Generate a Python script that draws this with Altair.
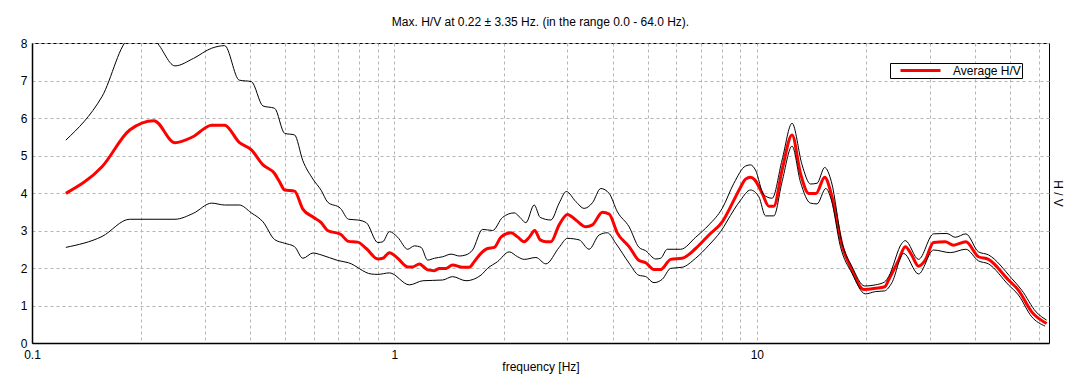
import altair as alt
import pandas as pd

title_text = "Max. H/V at 0.22 \u00b1 3.35 Hz. (in the range 0.0 - 64.0 Hz)."
x_title = "frequency [Hz]"
y_title = "H / V"
legend_name = "Average H/V"

# Average H/V curve (red)
avg_freq = [
    0.124, 0.156, 0.186, 0.217, 0.248, 0.278, 0.313, 0.340, 0.373, 0.403,
    0.434, 0.467, 0.482, 0.498, 0.530, 0.559, 0.596, 0.628, 0.654, 0.710,
    0.747, 0.792, 0.836, 0.900, 0.929, 0.969, 1.021, 1.088, 1.123, 1.172,
    1.235, 1.289, 1.330, 1.388, 1.447, 1.543, 1.609, 1.661, 1.733, 1.807,
    1.886, 1.967, 2.097, 2.187, 2.281, 2.355, 2.439, 2.525, 2.623, 2.702,
    2.848, 3.002, 3.167, 3.375, 3.519, 3.749, 3.912, 4.123, 4.441, 4.731,
    4.937, 5.204, 5.429, 5.785, 6.226, 6.779, 7.376, 8.027, 8.644, 8.980,
    9.309, 9.607, 9.870, 10.34, 10.79, 11.14, 11.74, 12.51, 13.19, 13.91,
    14.57, 15.39, 16.12, 17.18, 18.30, 19.72, 21.23, 22.53, 23.10, 24.61,
    25.68, 26.73, 27.94, 29.15, 30.73, 33.11, 34.90, 37.73, 40.89, 43.56,
    49.46, 52.70, 57.34, 63.05,
]
avg_hv = [
    3.99, 4.70, 5.68, 5.93, 5.34, 5.50, 5.81, 5.81, 5.35, 5.15,
    4.75, 4.52, 4.30, 4.08, 4.05, 3.57, 3.36, 3.21, 3.00, 2.90,
    2.71, 2.69, 2.52, 2.24, 2.26, 2.41, 2.26, 2.03, 2.03, 2.11,
    1.95, 1.93, 1.99, 1.99, 2.08, 2.02, 2.02, 2.17, 2.39, 2.52,
    2.55, 2.82, 2.94, 2.83, 2.70, 2.82, 3.00, 2.75, 2.70, 2.70,
    3.15, 3.43, 3.28, 3.10, 3.15, 3.49, 3.44, 2.93, 2.57, 2.20,
    2.14, 1.96, 1.96, 2.23, 2.26, 2.52, 2.88, 3.23, 3.81, 4.12,
    4.37, 4.42, 4.35, 4.00, 3.65, 3.65, 4.61, 5.55, 4.53, 3.99,
    3.99, 4.42, 3.90, 2.61, 1.95, 1.43, 1.46, 1.50, 1.68, 2.21,
    2.57, 2.35, 2.05, 2.21, 2.68, 2.70, 2.61, 2.70, 2.30, 2.23,
    1.68, 1.41, 0.83, 0.52,
]

# Upper curve (black)
hi_freq = [
    0.124, 0.156, 0.186, 0.217, 0.248, 0.279, 0.313, 0.340, 0.373, 0.403,
    0.434, 0.467, 0.498, 0.530, 0.559, 0.596, 0.628, 0.654, 0.710, 0.747,
    0.792, 0.836, 0.900, 0.929, 0.969, 1.021, 1.088, 1.135, 1.185, 1.235,
    1.289, 1.359, 1.433, 1.511, 1.576, 1.643, 1.751, 1.866, 1.988, 2.141,
    2.210, 2.306, 2.430, 2.525, 2.702, 2.848, 2.980, 3.167, 3.338, 3.519,
    3.711, 3.912, 4.123, 4.441, 4.731, 4.937, 5.260, 5.429, 5.661, 6.163,
    6.779, 7.376, 8.027, 8.644, 9.309, 9.607, 9.917, 10.45, 11.02, 11.74,
    12.51, 13.33, 14.06, 14.66, 15.39, 16.06, 17.18, 18.30, 19.84, 21.23,
    22.53, 23.10, 25.14, 25.68, 27.94, 30.73, 33.45, 35.28, 37.73, 40.89,
    43.56, 50.51, 53.82, 58.96, 63.05,
]
hi_hv = [
    5.41, 6.57, 8.10, 8.05, 7.39, 7.59, 7.86, 7.93, 7.01, 6.97,
    6.32, 6.26, 5.59, 5.55, 4.86, 4.37, 4.07, 3.76, 3.59, 3.30,
    3.28, 3.21, 2.68, 2.70, 2.97, 2.82, 2.50, 2.59, 2.55, 2.21,
    2.26, 2.30, 2.37, 2.32, 2.35, 2.48, 3.03, 3.00, 3.35, 3.47,
    3.37, 3.21, 3.68, 3.35, 3.28, 3.73, 4.04, 3.77, 3.59, 3.74,
    4.12, 3.99, 3.50, 3.10, 2.55, 2.46, 2.24, 2.26, 2.50, 2.50,
    2.82, 3.15, 3.59, 4.26, 4.72, 4.75, 4.61, 3.95, 3.86, 4.88,
    5.86, 4.75, 4.24, 4.26, 4.68, 4.30, 2.68, 2.04, 1.52, 1.55,
    1.63, 1.77, 2.66, 2.73, 2.23, 2.91, 2.92, 2.82, 2.91, 2.43,
    2.35, 1.72, 1.41, 0.83, 0.61,
]

# Lower curve (black)
lo_freq = [
    0.124, 0.156, 0.186, 0.217, 0.248, 0.279, 0.313, 0.340, 0.373, 0.403,
    0.434, 0.467, 0.498, 0.530, 0.559, 0.596, 0.628, 0.698, 0.747, 0.863,
    0.900, 0.969, 1.100, 1.197, 1.359, 1.447, 1.576, 1.733, 1.807, 1.926,
    2.074, 2.187, 2.281, 2.457, 2.618, 2.848, 3.002, 3.233, 3.445, 3.671,
    3.869, 4.080, 4.441, 4.717, 4.937, 5.204, 5.484, 5.785, 6.226, 6.779,
    7.376, 7.943, 8.644, 9.018, 9.607, 10.13, 10.57, 11.14, 11.74, 12.51,
    13.19, 14.06, 14.66, 15.50, 16.06, 17.01, 18.30, 19.93, 21.23, 22.53,
    23.59, 25.41, 27.94, 30.73, 34.18, 37.73, 40.89, 43.56, 49.46, 52.70,
    57.34, 62.42,
]
lo_hv = [
    2.55, 2.84, 3.30, 3.30, 3.30, 3.46, 3.73, 3.68, 3.68, 3.47,
    3.23, 2.76, 2.66, 2.57, 2.26, 2.40, 2.35, 2.20, 2.14, 1.84,
    1.83, 1.87, 1.55, 1.66, 1.68, 1.77, 1.66, 1.81, 1.99, 2.17,
    2.43, 2.30, 2.23, 2.28, 2.11, 2.55, 2.79, 2.75, 2.50, 2.88,
    2.94, 2.66, 2.13, 1.81, 1.77, 1.61, 1.70, 1.99, 2.02, 2.26,
    2.61, 2.97, 3.55, 3.81, 4.08, 3.90, 3.39, 3.39, 4.30, 5.25,
    4.30, 3.73, 3.71, 4.12, 3.81, 2.57, 1.86, 1.31, 1.37, 1.39,
    1.61, 2.39, 1.84, 2.48, 2.41, 2.50, 2.19, 2.11, 1.55, 1.28,
    0.70, 0.45,
]

x_grid_values = [0.1, 0.2, 0.3, 0.4, 0.5, 0.6, 0.7, 0.8, 0.9,
                 1, 2, 3, 4, 5, 6, 7, 8, 9,
                 10, 20, 30, 40, 50, 60]
x_label_values = [0.1, 1, 10]
y_values = [0, 1, 2, 3, 4, 5, 6, 7, 8]

df_avg = pd.DataFrame({"freq": avg_freq, "hv": avg_hv, "series": legend_name})
df_band = pd.concat([
    pd.DataFrame({"freq": hi_freq, "hv": hi_hv, "curve": "upper"}),
    pd.DataFrame({"freq": lo_freq, "hv": lo_hv, "curve": "lower"}),
], ignore_index=True)

FONT = "Liberation Sans"
GRID = "#b4b4b4"

label_expr = "indexof([" + ",".join(str(v) for v in x_label_values) + "], datum.value) >= 0 ? toString(datum.value) : ''"

x_enc = alt.X(
    "freq:Q",
    scale=alt.Scale(type="log", domain=[0.1, 64], nice=False),
    axis=alt.Axis(
        values=x_grid_values, labelExpr=label_expr, title=x_title,
        grid=True, gridDash=[3, 3], gridColor=GRID, gridWidth=1,
        ticks=False, labelFlush=False, labelOverlap=False, labelPadding=6,
        domainColor="black", domainWidth=1.5, titlePadding=1,
    ),
)
y_scale = alt.Scale(domain=[0, 8], nice=False)

avg_layer = alt.Chart(df_avg).mark_line(strokeWidth=3, clip=True, interpolate="monotone").encode(
    x=x_enc,
    y=alt.Y("hv:Q", scale=y_scale, axis=alt.Axis(
        orient="left", values=y_values, title=None, grid=True, gridDash=[3, 3],
        gridColor=GRID, ticks=False, labelFlush=False, labelPadding=5,
        domainColor="black", domainWidth=1.5)),
    color=alt.Color("series:N", scale=alt.Scale(domain=[legend_name], range=["#ff0000"]),
                    legend=alt.Legend(title=None, orient="none", legendX=858, legendY=20,
                                      symbolType="stroke", symbolSize=1600,
                                      symbolStrokeWidth=3, symbolOffset=8,
                                      labelOffset=11, padding=1, clipHeight=13,
                                      strokeColor="black", fillColor="white",
                                      labelFontSize=12, labelFont=FONT,
                                      labelExpr="datum.label + '        '")),
)

band_layer = alt.Chart(df_band).mark_line(color="black", strokeWidth=1, clip=True, interpolate="monotone").encode(
    x=x_enc,
    y=alt.Y("hv:Q", scale=y_scale, axis=alt.Axis(
        orient="right", title=y_title, labels=False, ticks=False, domain=False,
        grid=False, titleAngle=90, titlePadding=1)),
    detail="curve:N",
)

chart = alt.layer(avg_layer, band_layer).resolve_axis(y="independent").properties(
    width=1017, height=300,
    title=alt.TitleParams(title_text, fontSize=12, fontWeight="normal", font=FONT,
                          anchor="middle", frame="group", baseline="alphabetic",
                          offset=-1, color="black"),
    autosize="none",
    padding={"left": 24, "top": 35, "right": 24, "bottom": 36},
    background="white",
).configure_view(stroke="black", strokeWidth=1).configure_axis(
    labelFont=FONT, labelFontSize=12, labelColor="black",
    titleFont=FONT, titleFontSize=12, titleFontWeight="normal", titleColor="black",
)

chart.save("out.html", embed_options={"renderer": "svg", "actions": False})
